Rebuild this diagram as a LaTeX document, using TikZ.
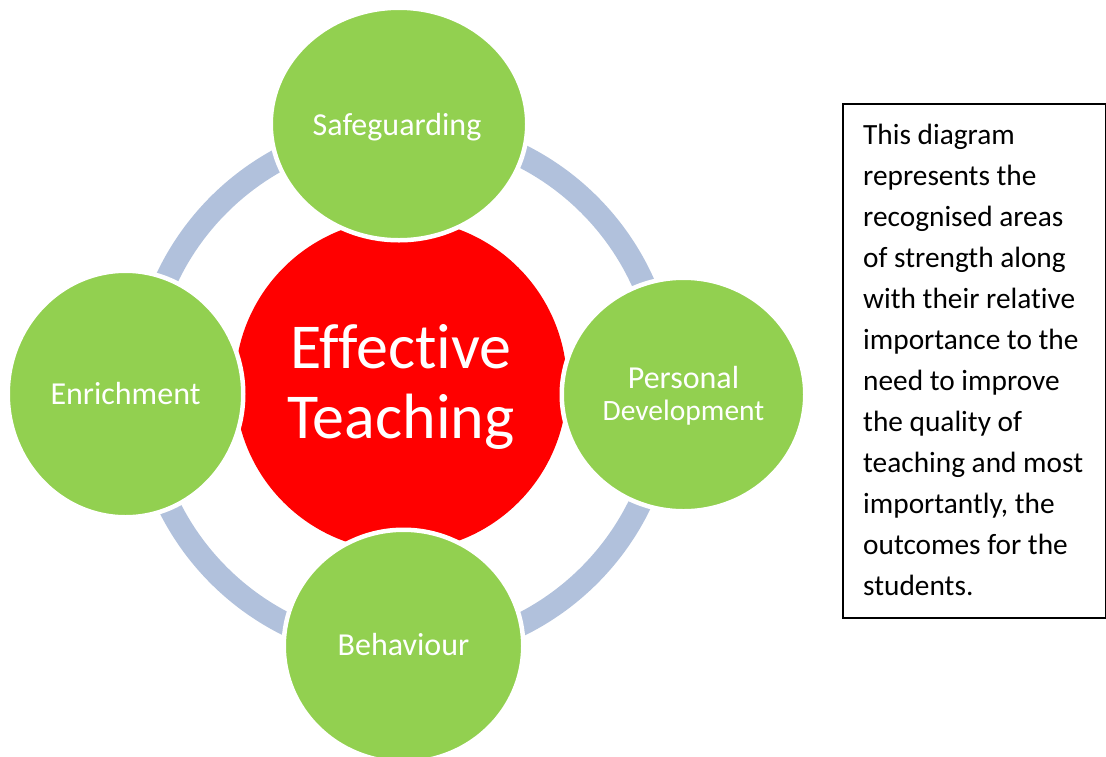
\documentclass[tikz,border=0pt]{standalone}
\usepackage{fontspec}
\setmainfont{Carlito}[Ligatures={NoCommon,NoContextual}]
\usetikzlibrary{shapes.geometric}
\definecolor{leaf}{HTML}{92D050}
\definecolor{ringblue}{HTML}{B1C1DC}
\begin{document}
\begin{tikzpicture}[x=1pt,y=-1pt,
  topic/.style={ellipse, fill=leaf, draw=white, line width=4.5pt, inner sep=0pt},
  topiclabel/.style={text=white, font=\fontsize{32}{32}\selectfont, inner sep=0pt, align=center},
  corelabel/.style={text=white, font=\fontsize{64}{70}\selectfont, inner sep=0pt, align=center},
  notelabel/.style={text=black, font=\fontsize{29.33}{41}\selectfont, inner sep=0pt, align=left},
]
\useasboundingbox (0,0) rectangle (1106,756);

% cycle ring behind everything
\coordinate (hub) at (404,390);
\draw[ringblue, line width=23pt] (hub) circle[radius=262];

% central hub
\node[circle, fill=red, minimum size=332pt, inner sep=0pt] (core) at (401,385) {};
\node[corelabel, anchor=base] (core-t) at (401,438) {Effective\\Teaching};

% four surrounding topics
\node[topic, minimum width=256.5pt, minimum height=232.5pt] (safe) at (399,124) {};
\node[topic, minimum width=235.5pt, minimum height=246.5pt] (enrich) at (125.5,394) {};
\node[topic, minimum width=243.5pt, minimum height=233.5pt] (personal) at (683.5,394.5) {};
\node[topic, minimum width=239.5pt, minimum height=232.5pt] (behav) at (403.5,646) {};

\node[topiclabel, anchor=base] (safe-t) at (397,135) {Safeguarding};
\node[topiclabel, anchor=base] (enrich-t) at (125.5,404) {Enrichment};
\node[topiclabel, anchor=base] (personal-t) at (683.5,420) {Personal\\{\fontsize{29.5}{32}\selectfont Development}};
\node[topiclabel, anchor=base] (behav-t) at (403.5,655) {Behaviour};

% explanatory note
\node[draw=black, line width=2pt, minimum width=263pt, minimum height=514pt, anchor=north west, inner sep=0pt] (notebox) at (842,103) {};
\node[notelabel, anchor=base west] (note) at (863,595) {This diagram\\represents the\\recognised areas\\of strength along\\with their relative\\importance to the\\need to improve\\the quality of\\teaching and most\\importantly, the\\outcomes for the\\students.};
\end{tikzpicture}
\end{document}
